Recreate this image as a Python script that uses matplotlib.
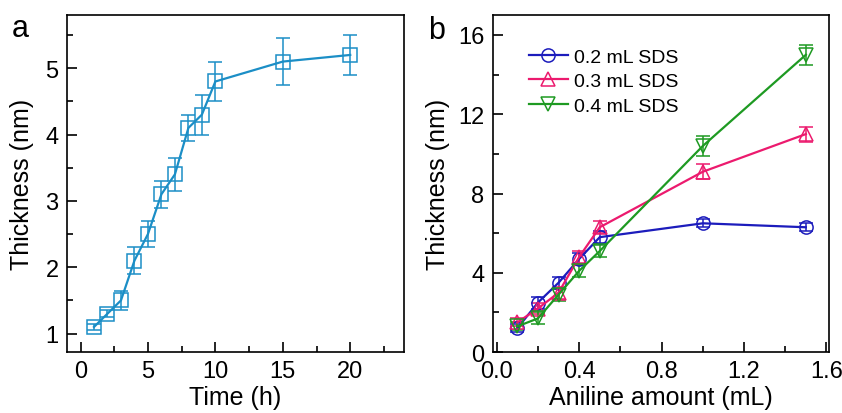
import matplotlib
matplotlib.use("Agg")
import matplotlib.pyplot as plt
from matplotlib.ticker import MultipleLocator

plt.rcParams['font.family'] = ['Liberation Sans Narrow', 'Liberation Sans', 'DejaVu Sans']

# (a) espesor frente al tiempo
tiempo = [1, 2, 3, 4, 5, 6, 7, 8, 9, 10, 15, 20]
espesor_a = [1.1, 1.3, 1.5, 2.1, 2.5, 3.1, 3.4, 4.1, 4.3, 4.8, 5.1, 5.2]
error_a = [0.05, 0.05, 0.14, 0.2, 0.2, 0.2, 0.25, 0.2, 0.3, 0.3, 0.35, 0.3]

# (b) espesor frente a la cantidad de anilina
anilina = [0.1, 0.2, 0.3, 0.4, 0.5, 1.0, 1.5]
sds_02 = [1.2, 2.5, 3.5, 4.7, 5.8, 6.5, 6.3]
sds_03 = [1.5, 2.2, 3.0, 4.8, 6.3, 9.1, 11.0]
sds_04 = [1.3, 1.7, 2.9, 4.1, 5.1, 10.4, 15.0]
err_02 = [0.2, 0.3, 0.3, 0.3, 0.3, 0.2, 0.2]
err_03 = [0.2, 0.3, 0.3, 0.3, 0.3, 0.38, 0.38]
err_04 = [0.2, 0.3, 0.3, 0.3, 0.3, 0.5, 0.5]
etiquetas = ['0.2 mL SDS', '0.3 mL SDS', '0.4 mL SDS']

fig = plt.figure(figsize=(8.42, 4.14), dpi=100)
ax1 = fig.add_axes([0.0796, 0.147, 0.4004, 0.814])
ax2 = fig.add_axes([0.585, 0.147, 0.399, 0.814])


def estilo_ejes(ax):
    for s in ax.spines.values():
        s.set_linewidth(1.2)
    ax.tick_params(which='both', direction='in', top=False, right=False,
                   labelsize=17, width=1.2, pad=6)
    ax.tick_params(which='major', length=7)
    ax.tick_params(which='minor', length=4)


azul_a = '#1b8ec6'
ax1.errorbar(tiempo, espesor_a, yerr=error_a, color=azul_a, lw=1.6,
             marker='s', ms=9.5, mfc='none', mec=azul_a, mew=1.1,
             ecolor=azul_a, elinewidth=1.1, capsize=5, capthick=1.1)
ax1.set_xlim(-1, 24)
ax1.set_ylim(0.72, 5.8)
ax1.xaxis.set_major_locator(MultipleLocator(5))
ax1.xaxis.set_minor_locator(MultipleLocator(2.5))
ax1.yaxis.set_major_locator(MultipleLocator(1))
ax1.yaxis.set_minor_locator(MultipleLocator(0.5))
ax1.set_xlabel('Time (h)', fontsize=18, labelpad=2)
ax1.set_ylabel('Thickness (nm)', fontsize=18, labelpad=8)
estilo_ejes(ax1)

series = [(sds_02, err_02, '#1c1cbc', 'o'),
          (sds_03, err_03, '#ec1a6e', '^'),
          (sds_04, err_04, '#1e9a22', 'v')]
for (y, e, c, m), lab in zip(series, etiquetas):
    ax2.errorbar(anilina, y, yerr=e, color=c, lw=1.6, marker=m, ms=9.5,
                 mfc='none', mec=c, mew=1.1, ecolor=c, elinewidth=1.1,
                 capsize=5, capthick=1.1, label=lab)
ax2.set_xlim(-0.02, 1.61)
ax2.set_ylim(0, 17)
ax2.xaxis.set_major_locator(MultipleLocator(0.4))
ax2.xaxis.set_minor_locator(MultipleLocator(0.2))
ax2.yaxis.set_major_locator(MultipleLocator(4))
ax2.yaxis.set_minor_locator(MultipleLocator(2))
ax2.xaxis.set_major_formatter(plt.FormatStrFormatter('%.1f'))
ax2.set_xlabel('Aniline amount (mL)', fontsize=18, labelpad=2)
ax2.set_ylabel('Thickness (nm)', fontsize=18, labelpad=6)
estilo_ejes(ax2)

h, l = ax2.get_legend_handles_labels()
h = [x[0] for x in h]
ax2.legend(h, l, loc='upper left', bbox_to_anchor=(0.085, 0.925), frameon=False,
           fontsize=14, handlelength=2.0, handletextpad=0.3, labelspacing=0.35,
           borderaxespad=0)

fig.text(0.014, 0.91, 'a', fontsize=22)
fig.text(0.508, 0.905, 'b', fontsize=22)

fig.savefig('out.png', dpi=100)
